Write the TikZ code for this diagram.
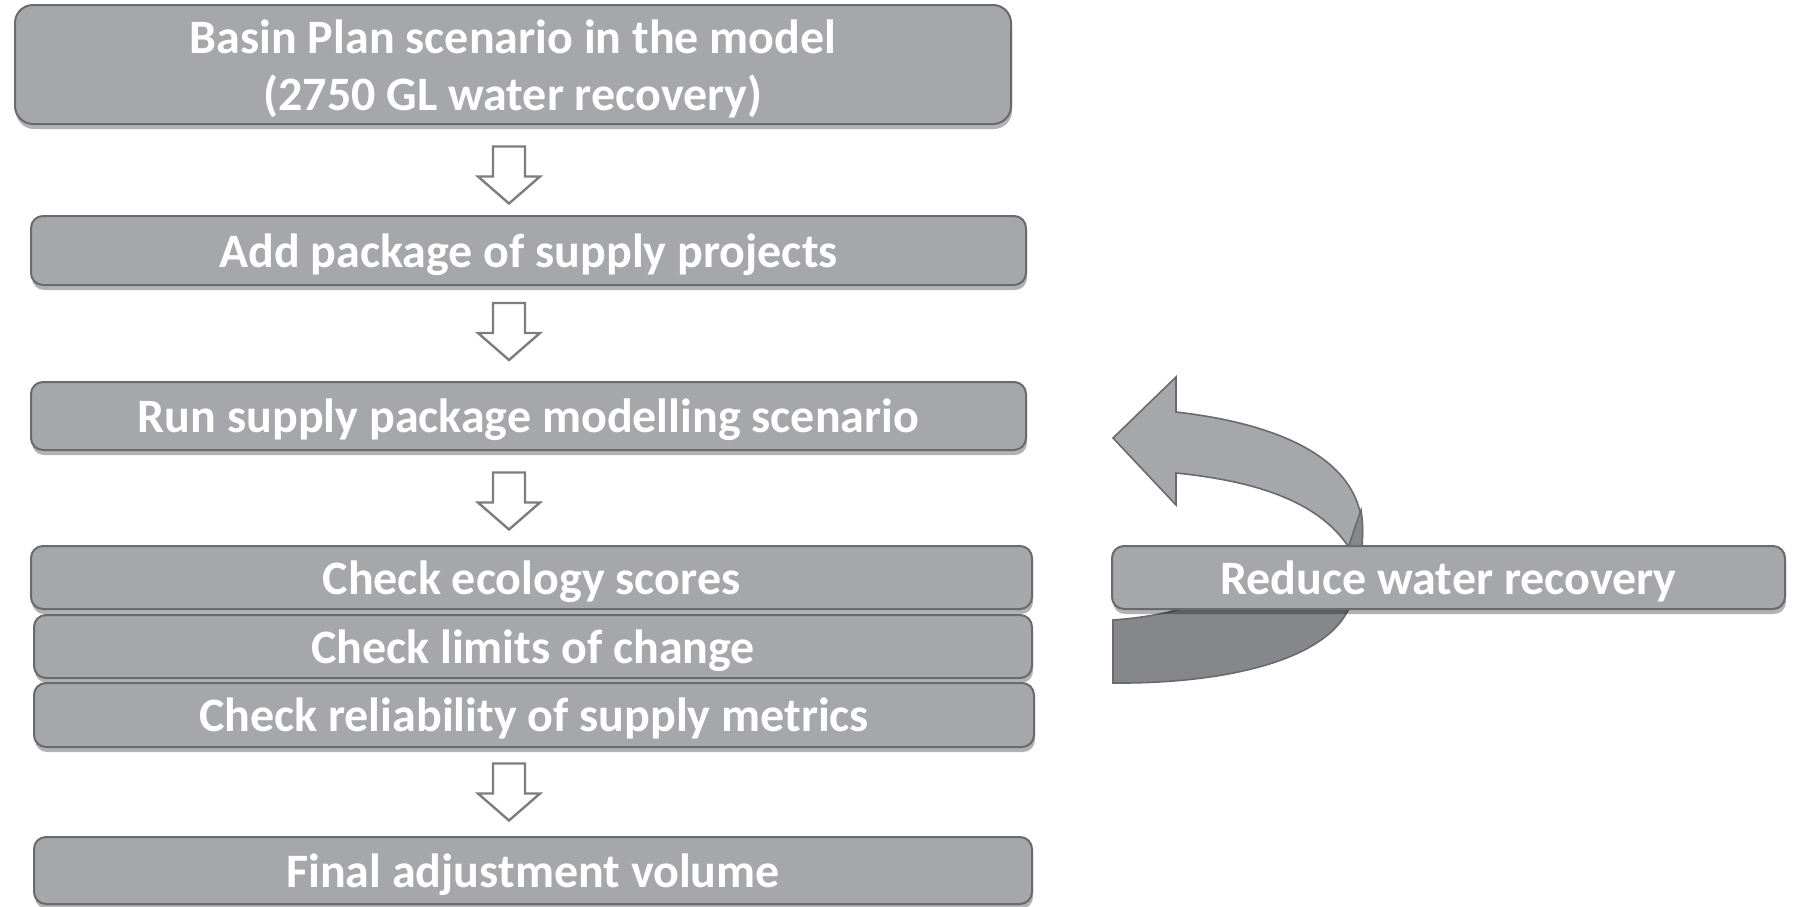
\documentclass[tikz,border=0pt]{standalone}
\usepackage{fontspec}
\setmainfont{Carlito}
\usetikzlibrary{positioning,calc,shadows,backgrounds}
\definecolor{boxgray}{RGB}{166,167,170}
\definecolor{edgegray}{RGB}{105,106,108}
\definecolor{backgray}{RGB}{134,135,138}
\definecolor{arrowgray}{RGB}{125,125,125}
\tikzset{
  every node/.append style={font=\fontsize{48}{57}\selectfont\bfseries},
}
\tikzset{
  pics/blockdown/.style={code={
    \draw[downarr] (-16,-28.5) -- (16,-28.5) -- (16,1.5) -- (31,1.5) -- (0,28.5)
      -- (-31,1.5) -- (-16,1.5) -- cycle;
  }}
}

\begin{document}
\begin{tikzpicture}[
  x=1pt, y=-1pt,
  stage/.style  ={draw=edgegray, line width=2pt, fill=boxgray, text=white,
                  rounded corners=12pt, inner sep=0pt,
                  drop shadow={shadow xshift=1pt, shadow yshift=-5pt,
                               opacity=.3, fill=black}},
  oneline/.style={text height=40pt, text depth=7pt},
  downarr/.style={draw=arrowgray, fill=white, line width=2.4pt, line join=miter},
  ribbonfront/.style={draw=edgegray, line width=1.6pt, fill=boxgray},
  ribbonback/.style ={draw=edgegray, line width=1.6pt, fill=backgray}
]
\useasboundingbox (0,0) rectangle (1802,906);

% Main column
\node[stage, align=center, rounded corners=18pt, minimum width=996, minimum height=119] (basin) at (513,64.5)
  {\rule{0pt}{42pt}Basin Plan scenario in the model\\(2750 GL water recovery)};
\node[stage, oneline, minimum width=995, minimum height=69] (addpkg) at (528.5,250.5) {Add package of supply projects};
\node[stage, oneline, minimum width=995, minimum height=68] (runpkg) at (528.5,416) {Run supply package modelling scenario};

% Checks, stacked
\node[stage, oneline, minimum width=1001, minimum height=63] (eco) at (531.5,577.5) {Check ecology scores};
\node[stage, oneline, minimum width=998, minimum height=63] (lim) at (533,646.5) {Check limits of change};
\node[stage, oneline, minimum width=1000, minimum height=64] (rel) at (534,715) {Check reliability of supply metrics};

\node[stage, oneline, minimum width=998, minimum height=67] (final) at (533,870.5) {Final adjustment volume};

% Loop back box
\node[stage, oneline, minimum width=673, minimum height=63] (reduce) at (1448.5,577.5) {Reduce water recovery};

% Block arrows between steps
\coordinate (axis) at (509,0);
\foreach \a/\b/\dy in {basin/addpkg/5, addpkg/runpkg/-2, runpkg/eco/3, rel/final/0}{
  \coordinate (m) at ($(\a.south)!.5!(\b.north)+(0,\dy)$);
  \pic at (m -| axis) {blockdown};
}

% U-turn arrow round the reduce box
\begin{scope}[on background layer]
  \draw[ribbonback] (1113,620) -- (1113,683)
    .. controls (1225,684) and (1335,660) .. (1352,600)
    -- (1210,600) .. controls (1170,614) and (1140,618) .. (1113,620) -- cycle;
  \draw[ribbonfront] (1113,438) -- (1176,377) -- (1176,412)
    .. controls (1290,425) and (1368,465) .. (1362,540)
    -- (1358,560) -- (1348,560) -- (1348,546)
    .. controls (1320,505) and (1265,482) .. (1176,473)
    -- (1176,505) -- cycle;
  % twist where the ribbon turns over
  \draw[ribbonback] (1348,548) .. controls (1354,530) .. (1361,510)
    .. controls (1363,525) .. (1362,548) -- cycle;
\end{scope}

\end{tikzpicture}
\end{document}
